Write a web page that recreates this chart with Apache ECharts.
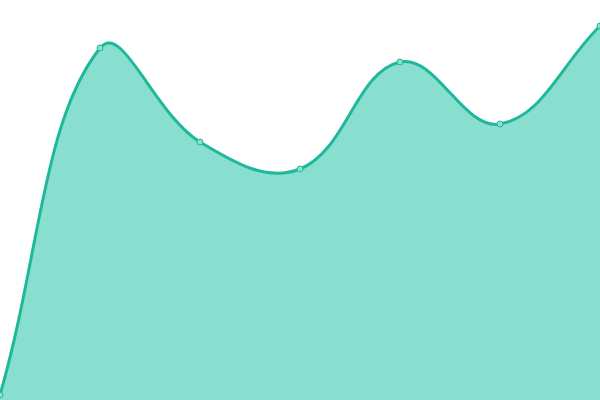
<!DOCTYPE html>
<html>
<head>
<meta charset="utf-8">
<script src="https://cdn.jsdelivr.net/npm/echarts@6/dist/echarts.min.js"></script>
<style>
html, body { margin: 0; padding: 0; background: #fff; }
#main { width: 600px; height: 400px; }
</style>
</head>
<body>
<div id="main"></div>
<script>
var categories = ['1', '2', '3', '4', '5', '6', '7'];
var values = [5, 352, 258, 231, 338, 276, 374];

var tension = 0.4;

// spline through the points (control points weighted by segment length)
function splinePath(pts) {
    var cps = pts.map(function (cur, i) {
        var prev = pts[i - 1] || cur;
        var next = pts[i + 1] || cur;
        var d01 = Math.hypot(cur[0] - prev[0], cur[1] - prev[1]);
        var d12 = Math.hypot(next[0] - cur[0], next[1] - cur[1]);
        var s01 = d01 / (d01 + d12) || 0;
        var s12 = d12 / (d01 + d12) || 0;
        var fa = tension * s01, fb = tension * s12;
        var vx = next[0] - prev[0], vy = next[1] - prev[1];
        return {
            prev: [cur[0] - fa * vx, cur[1] - fa * vy],
            next: [cur[0] + fb * vx, cur[1] + fb * vy]
        };
    });
    var d = 'M' + pts[0][0] + ',' + pts[0][1];
    for (var i = 1; i < pts.length; i++) {
        var a = cps[i - 1].next, b = cps[i].prev;
        d += ' C' + a[0] + ',' + a[1] + ' ' + b[0] + ',' + b[1] + ' ' + pts[i][0] + ',' + pts[i][1];
    }
    return d;
}

var myChart = echarts.init(document.getElementById('main'));

var option = {
    animation: false,
    grid: { left: 0, right: 0, top: 0, bottom: 0 },
    xAxis: {
        type: 'category',
        data: categories,
        boundaryGap: false,
        show: false
    },
    yAxis: {
        type: 'value',
        min: 0,
        max: 400,
        show: false
    },
    series: [{
        type: 'custom',
        z: 1,
        clip: false,
        data: values.map(function (v, i) { return [i, v]; }),
        renderItem: function (params, api) {
            if (params.dataIndex !== 0) return null;
            var pts = values.map(function (v, i) { return api.coord([i, v]); });
            var base = api.coord([0, 0])[1];
            var line = splinePath(pts);
            var last = pts[pts.length - 1];
            var area = line + ' L' + last[0] + ',' + base + ' L' + pts[0][0] + ',' + base + ' Z';
            return {
                type: 'group',
                children: [{
                    type: 'path',
                    shape: { pathData: area },
                    style: { fill: '#89dfcf', stroke: 'none' }
                }, {
                    type: 'path',
                    shape: { pathData: line },
                    style: { fill: 'none', stroke: '#1fb99a', lineWidth: 3 }
                }]
            };
        }
    }, {
        type: 'line',
        z: 3,
        data: values,
        symbol: 'circle',
        symbolSize: 6,
        showAllSymbol: true,
        lineStyle: { width: 0, opacity: 0 },
        itemStyle: { color: '#89dfcf', borderColor: '#1fb99a', borderWidth: 1 }
    }]
};

myChart.setOption(option);
</script>
</body>
</html>
